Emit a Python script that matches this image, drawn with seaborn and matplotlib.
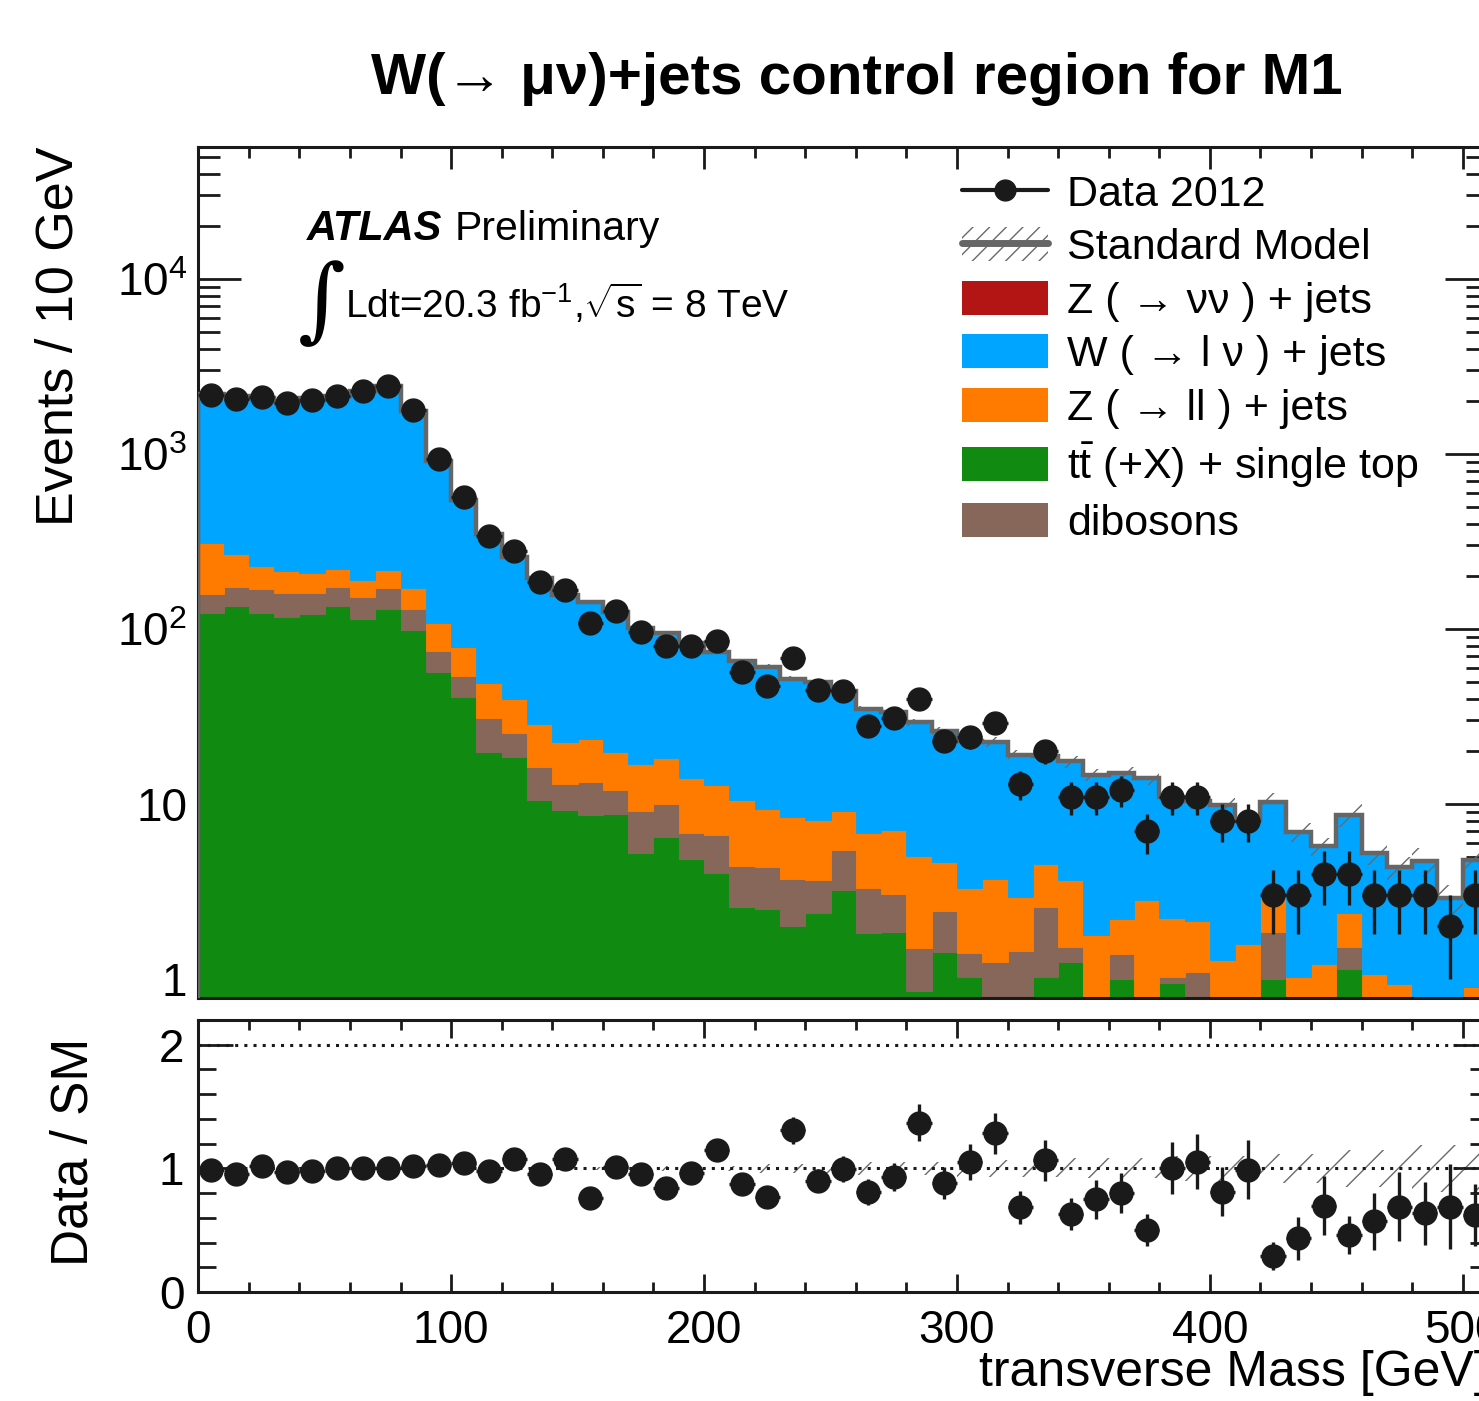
import numpy as np
import pandas as pd
import matplotlib
matplotlib.use("Agg")
import matplotlib.pyplot as plt
import seaborn as sns
from matplotlib.patches import Patch
from matplotlib.lines import Line2D
from matplotlib.legend_handler import HandlerTuple
from matplotlib.ticker import FixedLocator, FixedFormatter, MultipleLocator, LogLocator, NullFormatter

# ---------------- data ----------------
bin_edges = np.arange(0, 511, 10)          # transverse mass bins [GeV]

data_counts = [2173, 2055, 2125, 1949, 2036, 2145, 2300, 2455, 1784, 933,
               570, 340, 278, 186, 167, 108, 126, 96, 80, 80,
               85, 57, 47, 68, 45, 44, 28, 31, 40, 23,
               24, 29, 13, 20, 11, 11, 12, 7, 11, 11,
               8, 8, 3, 3, 4, 4, 3, 3, 3, 2, 3]
data_err = [32, 31, 32, 30, 31, 32, 33, 34, 29, 21,
            16.5, 12.7, 11.5, 9.4, 8.9, 7.1, 7.8, 6.8, 6.2, 6.2,
            6.4, 5.2, 4.7, 5.6, 4.6, 4.6, 3.6, 3.8, 4.4, 3.3,
            3.4, 3.7, 2.5, 3.1, 2.3, 2.3, 2.4, 1.8, 2.3, 2.3,
            1.95, 1.95, 1.2, 1.2, 1.35, 1.35, 1.2, 1.2, 1.2, 1.0, 1.2]

ttbar = [123, 135, 124, 117.5, 121, 135, 114, 130, 98.7, 57,
         41, 19.9, 18.6, 10.6, 9.2, 8.65, 8.75, 5.25, 6.45, 4.83,
         4.02, 2.57, 2.5, 2.01, 2.39, 3.22, 1.84, 1.86, 0.85, 1.42,
         1.02, 0, 0, 1.02, 1.25, 0, 1.0, 0, 0.95, 0,
         0, 0, 1.0, 0, 0, 1.14, 0, 0, 0, 0, 0]
diboson = [35.5, 38, 44.6, 42.5, 39, 39.5, 37.7, 41.5, 31.3, 17.8,
           13, 11.2, 6.7, 5.7, 3.8, 4.75, 3.25, 3.9, 3.55, 2.0,
           2.63, 1.85, 1.88, 1.7, 1.29, 2.24, 1.46, 1.2, 0.65, 1.03,
           0.38, 1.25, 1.45, 1.56, 0.27, 0, 0.39, 0, 0.08, 1.09,
           0, 0, 0.86, 0, 0, 0.39, 0, 0, 0, 0, 0]
zll = [150.5, 95, 61.4, 54, 48, 44.5, 38.8, 45.5, 41.5, 33.2,
       24.6, 17.9, 14.4, 12.4, 9.7, 10, 7.7, 7.75, 8.2, 7.27,
       6.15, 6.08, 4.98, 4.68, 4.42, 3.62, 3.5, 4.04, 3.55, 2.21,
       1.92, 2.46, 1.48, 1.96, 2.16, 1.78, 0.81, 2.83, 1.21, 1.05,
       1.28, 1.58, 1.09, 1.03, 1.22, 0.84, 1.06, 0.94, 0, 0, 0.9]
wlnu = [1891, 1882, 1855, 1786, 1877, 1921, 2100, 2233, 1578, 802,
        466, 299, 218, 167, 133, 118.6, 105.3, 84.1, 76.8, 68.9,
        61.2, 55, 51.6, 43.6, 41.9, 35.1, 27.9, 26.3, 24.15, 21.4,
        19.5, 18.9, 16.05, 14.2, 13.8, 12.9, 12.8, 11.2, 8.7, 8.3,
        8.6, 6.5, 7.35, 5.9, 4.5, 6.3, 4.2, 3.4, 4.7, 2.9, 3.9]
znunu = [0] * 51

sm_rel_unc = [0.01] * 13 + [0.015] * 5 + [0.02] * 4 + [0.035] * 4 + \
             [0.05] * 4 + [0.07] * 4 + [0.08] * 4 + [0.10] * 4 + \
             [0.12] * 3 + [0.15] * 3 + [0.19] * 3

# stacking order: first key on top, last key at the bottom
stack_keys = ["znunu", "wlnu", "zll", "diboson", "ttbar"]
# legend order as in the reference
legend_keys = ["znunu", "wlnu", "zll", "ttbar", "diboson"]
proc_labels = {"znunu": "Z ( → νν ) + jets", "wlnu": "W ( → l ν ) + jets",
               "zll": "Z ( → ll ) + jets",
               "ttbar": r"$\mathrm{t\bar{t}}$ (+X) + single top",
               "diboson": "dibosons"}
proc_colors = {"znunu": "#B31515", "wlnu": "#00A5FF", "zll": "#FF7B00",
               "ttbar": "#108A10", "diboson": "#87675A"}

title_text = "W(→ μν)+jets control region for M1"

# ---------------- style ----------------
sns.set_theme(style="ticks")
plt.rcParams["font.family"] = ["Liberation Sans", "DejaVu Sans"]
plt.rcParams["mathtext.fontset"] = "custom"
plt.rcParams["mathtext.rm"] = "Liberation Sans"
plt.rcParams["mathtext.it"] = "Liberation Sans:italic"
plt.rcParams["mathtext.bf"] = "Liberation Sans:bold"
plt.rcParams["hatch.color"] = "#6a6a6a"
plt.rcParams["hatch.linewidth"] = 1.0
plt.rcParams["axes.linewidth"] = 2.2
for key in ["text.color", "axes.labelcolor", "xtick.color", "ytick.color",
            "xtick.labelcolor", "ytick.labelcolor"]:
    plt.rcParams[key] = "black"

W, H = 1479, 1401
fig = plt.figure(figsize=(W / 100, H / 100), dpi=100)
x_left, x_right = 198.3, 1488.0
ax = fig.add_axes([x_left / W, 1 - 998 / H, (x_right - x_left) / W, (998 - 146.7) / H])
ax2 = fig.add_axes([x_left / W, 1 - 1292 / H, (x_right - x_left) / W, (1292 - 1020) / H])

centers = 0.5 * (bin_edges[:-1] + bin_edges[1:])
proc_values = {"znunu": znunu, "wlnu": wlnu, "zll": zll,
               "diboson": diboson, "ttbar": ttbar}
df = pd.concat([pd.DataFrame({"mt": centers, "w": proc_values[k], "proc": k})
                for k in stack_keys], ignore_index=True)

sns.histplot(data=df, x="mt", weights="w", hue="proc", hue_order=stack_keys,
             palette=proc_colors, multiple="stack", binwidth=10,
             binrange=(float(bin_edges[0]), float(bin_edges[-1])),
             element="step", fill=True, alpha=1, edgecolor="face",
             linewidth=0.6, legend=False, ax=ax, zorder=1)

total = np.sum([np.asarray(proc_values[k], float) for k in stack_keys], axis=0)
unc = np.asarray(sm_rel_unc) * total
lo = np.append(total - unc, (total - unc)[-1])
hi = np.append(total + unc, (total + unc)[-1])

ax.set_yscale("log")
ax.fill_between(bin_edges, lo, hi, step="post", facecolor="none",
                edgecolor="#6a6a6a", hatch="/", linewidth=0, zorder=3)
ax.stairs(total, bin_edges, color="#666666", linewidth=3.2, zorder=4)
ax.errorbar(centers, data_counts, yerr=data_err, xerr=5, fmt="o", color="k",
            ms=16.5, elinewidth=2.4, capsize=0, zorder=6)

ax.set_xlim(0, 510)
ax.set_ylim(0.778, 57000)
ax.yaxis.set_major_locator(FixedLocator([1, 10, 100, 1000, 10000]))
ax.yaxis.set_major_formatter(FixedFormatter(["1", "10", "$10^{2}$", "$10^{3}$", "$10^{4}$"]))
ax.yaxis.set_minor_locator(LogLocator(base=10, subs=np.arange(2, 10), numticks=20))
ax.yaxis.set_minor_formatter(NullFormatter())
ax.xaxis.set_major_locator(MultipleLocator(100))
ax.xaxis.set_minor_locator(MultipleLocator(20))
ax.xaxis.set_major_formatter(NullFormatter())
ax.tick_params(which="both", direction="in", top=True, right=True, width=2, color="k")
ax.tick_params(axis="y", which="major", length=31, labelsize=33, pad=8)
ax.tick_params(axis="y", which="minor", length=16)
ax.tick_params(axis="x", which="major", length=16)
ax.tick_params(axis="x", which="minor", length=8)
ax.set_xlabel("")
ax.set_ylabel("Events / 10 GeV", fontsize=37.5, loc="top")
ax.yaxis.set_label_coords(84 / W, 1 - 147 / H, transform=fig.transFigure)
for s in ax.spines.values():
    s.set_color("k")

# ---------------- ratio panel ----------------
ratio = np.asarray(data_counts) / total
ratio_err = np.asarray(data_err) / total
rel = np.asarray(sm_rel_unc)
ax2.fill_between(bin_edges, np.append(1 - rel, 1 - rel[-1]), np.append(1 + rel, 1 + rel[-1]),
                 step="post", facecolor="none", edgecolor="#6a6a6a", hatch="/",
                 linewidth=0, zorder=1)
ax2.axhline(1, color="k", ls=(0, (1, 2)), lw=2.2, zorder=2)
ax2.axhline(2, color="k", ls=(0, (1, 2)), lw=2.2, zorder=2)
ax2.errorbar(centers, ratio, yerr=ratio_err, xerr=5, fmt="o", color="k",
             ms=16.5, elinewidth=2.4, capsize=0, zorder=5)
ax2.set_xlim(0, 510)
ax2.set_ylim(0, 2.2)
ax2.yaxis.set_major_locator(FixedLocator([0, 1, 2]))
ax2.yaxis.set_minor_locator(MultipleLocator(0.2))
ax2.xaxis.set_major_locator(MultipleLocator(100))
ax2.xaxis.set_minor_locator(MultipleLocator(20))
ax2.tick_params(which="both", direction="in", top=True, right=True, width=2, color="k")
ax2.tick_params(axis="y", which="major", length=25, labelsize=33, pad=10)
ax2.tick_params(axis="y", which="minor", length=13)
ax2.tick_params(axis="x", which="major", length=13, labelsize=33, pad=12)
ax2.tick_params(axis="x", which="minor", length=7)
ax2.set_ylabel("Data / SM", fontsize=37, loc="center")
ax2.yaxis.set_label_coords(98 / W, 1 - 1152 / H, transform=fig.transFigure)
ax2.set_xlabel("transverse Mass [GeV]", fontsize=36, loc="right")
ax2.xaxis.set_label_coords(x_right / W, 1 - 1350 / H, transform=fig.transFigure)
for s in ax2.spines.values():
    s.set_color("k")

# ---------------- texts ----------------
fig.text(857 / W, 1 - 94 / H, title_text, ha="center", va="baseline",
         fontsize=42, fontweight="bold",
         family=["Liberation Sans Narrow", "Liberation Sans", "DejaVu Sans"])
fig.text(307 / W, 1 - 240 / H, "ATLAS", fontsize=30, fontweight="bold",
         fontstyle="italic", va="baseline", ha="left")
fig.text(455 / W, 1 - 240 / H, "Preliminary", fontsize=29.5, va="baseline", ha="left")
fig.text(298 / W, 1 - 330 / H, "∫", fontsize=66, va="baseline", ha="left",
         family=["DejaVu Serif", "Liberation Serif"])
fig.text(345 / W, 1 - 318 / H, r"Ldt=20.3 fb$^{\mathrm{-1}}$,$\sqrt{\mathrm{s}}$ = 8 TeV",
         fontsize=28, va="baseline", ha="left")

# ---------------- legend ----------------
handles = [Line2D([], [], color="k", marker="o", ms=15, lw=3),
           (Patch(facecolor="none", edgecolor="#6a6a6a", hatch="//", linewidth=0),
            Line2D([], [], color="#666666", lw=5))]
labels = ["Data 2012", "Standard Model"]
for k in legend_keys:
    handles.append(Patch(facecolor=proc_colors[k], edgecolor="none"))
    labels.append(proc_labels[k])
fig.legend(handles, labels, loc="upper left",
           bbox_to_anchor=(962 / W, 1 - 174 / H), bbox_transform=fig.transFigure,
           frameon=False, fontsize=31, handlelength=2.0, handleheight=0.84,
           handletextpad=0.45, labelspacing=0.29, borderpad=0, borderaxespad=0,
           handler_map={tuple: HandlerTuple(ndivide=1, pad=0)})

fig.savefig("out.png", dpi=100)
